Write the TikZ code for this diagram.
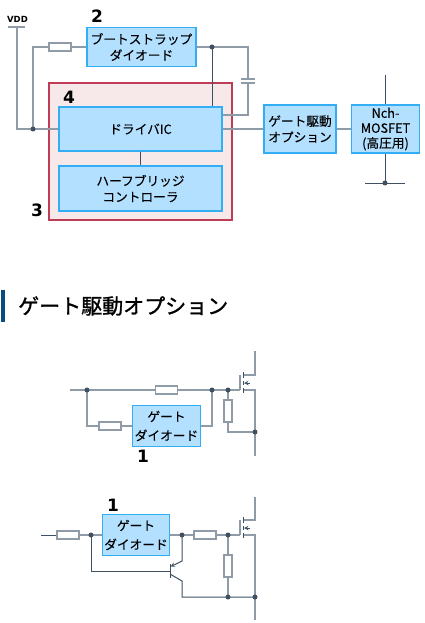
\documentclass[tikz,border=0pt]{standalone}
\usepackage{fontspec}
\setmainfont{Noto Sans CJK JP}
\newfontfamily\latinfont{DejaVu Sans}
\newfontfamily\titlefont[FakeBold=1.2]{Noto Sans CJK JP}
\newfontfamily\labelfont[FakeBold=0.05]{Noto Sans CJK JP}
\definecolor{box-blue}{RGB}{179,224,255}
\definecolor{box-edge}{RGB}{51,174,245}
\definecolor{wire-gray}{RGB}{143,155,167}
\definecolor{wire-dark}{RGB}{62,80,98}
\definecolor{ic-red}{RGB}{190,60,85}
\definecolor{ic-pink}{RGB}{247,233,233}
\definecolor{head-blue}{RGB}{11,74,125}
\tikzset{
  block/.style={draw=box-edge, fill=box-blue, line width=1.3pt, inner sep=0pt, align=center,
    font=\labelfont\fontsize{12.7}{16}\selectfont, text=black},
  wire/.style={draw=wire-gray, line width=1.2pt},
  thin wire/.style={draw=wire-dark, line width=1pt},
  dot/.style={circle, fill=wire-dark, inner sep=0pt, minimum size=5pt},
  res/.style={draw=wire-gray, fill=white, line width=1.2pt, inner sep=0pt, minimum width=22pt, minimum height=8pt},
  vres/.style={res, minimum width=8pt, minimum height=22pt},
  num/.style={font=\latinfont\fontsize{17}{17}\selectfont\bfseries, text=black, inner sep=0pt},
}
\begin{document}
\begin{tikzpicture}[x=1pt, y=-1pt]
  \useasboundingbox (0,0) rectangle (425,623);

  % top block diagram
  \node[draw=ic-red, fill=ic-pink, line width=1.3pt, minimum width=183pt, minimum height=137pt, inner sep=0pt] (ic) at (140.5,151.5) {};
  \node[block, minimum width=109pt, minimum height=39.5pt] (boot) at (141.5,47) {ブートストラップ\\ダイオード};
  \node[block, minimum width=163pt, minimum height=44pt] (driver) at (140.5,129) {ドライバIC};
  \node[block, minimum width=163pt, minimum height=45pt] (half) at (140.5,188.5) {ハーフブリッジ\\コントローラ};
  \node[block, minimum width=72pt, minimum height=48pt] (gate) at (300,129) {ゲート駆動\\オプション};
  \node[block, minimum width=67.5pt, minimum height=48pt, font=\labelfont\fontsize{12.7}{15}\selectfont] (fet) at (385.5,129) {Nch-\\MOSFET\\(高圧用)};
  \node[font=\latinfont\fontsize{8.5}{9}\selectfont\bfseries, inner sep=0pt] (vdd) at (17.5,19) {VDD};
  \node[num] (n2) at (97,16) {2};
  \node[num] (n4) at (69,97) {4};
  \node[num] (n3) at (37,210) {3};

  \coordinate (vddtop) at (17,27);
  \coordinate (vddcorner) at (17,129);
  \coordinate (vddjoin) at (33,129);
  \node[res] (rboot) at (60,47) {};
  \coordinate (bootjoin) at (212,47);
  \coordinate (capcorner) at (248,47);
  \coordinate (capup) at (248,79);
  \coordinate (capdown) at (248,83);
  \coordinate (capend) at (248,115);
  \draw[wire] (8,27) -- (25,27);
  \draw[wire] (vddtop) -- (vddcorner) -- (driver.west |- vddcorner);
  \draw[wire] (vddjoin) |- (rboot.west);
  \draw[wire] (rboot.east) -- (boot.west);
  \draw[wire] (boot.east) -- (capcorner) -- (capup);
  \draw[wire] (capdown) -- (capend) -- (driver.east |- capend);
  \draw[wire] (241,79) -- (255,79);
  \draw[wire] (241,83) -- (255,83);
  \draw[thin wire] (bootjoin) -- (bootjoin |- driver.north);
  \draw[thin wire] (driver) -- (half);
  \draw[wire] (driver.east) -- (gate.west);
  \draw[wire] (gate.east) -- (fet.west);
  \coordinate (fettop) at (385,75);
  \coordinate (fetjoin) at (385,183);
  \draw[thin wire] (fettop) -- (fettop |- fet.north);
  \draw[thin wire] (fetjoin |- fet.south) -- (fetjoin);
  \draw[thin wire] (365,183) -- (405,183);

  % heading
  \fill[head-blue] (1,290) rectangle (4.5,322);
  \node[anchor=west, font=\titlefont\fontsize{21}{24}\selectfont, inner sep=0pt, text=black] (title) at (18,306) {ゲート駆動オプション};

  % first option
  \node[block, minimum width=67.5pt, minimum height=40.5pt, font=\labelfont\fontsize{12.7}{19}\selectfont] (diodea) at (166.5,426) {ゲート\\ダイオード};
  \node[num] (n1a) at (143,456) {1};
  \coordinate (ajoin1) at (87,390);
  \coordinate (ajoin2) at (212,390);
  \coordinate (ajoin3) at (228,390);
  \coordinate (ajoin4) at (255,432);
  \node[res] (ar1) at (166.5,390) {};
  \node[res] (ar2) at (110,426) {};
  \node[vres] (ar3) at (228,411) {};
  \coordinate (ain) at (70,390);
  \coordinate (again) at (240,390);
  \draw[wire] (ain) -- (ar1.west);
  \draw[wire] (ar1.east) -- (again);
  \draw[wire] (ajoin1) |- (ar2.west);
  \draw[wire] (ar2.east) -- (diodea.west);
  \draw[wire] (diodea.east) -| (ajoin2);
  \draw[wire] (ajoin3) -- (ar3.north);
  \draw[wire] (ar3.south) |- (ajoin4);
  \draw[wire] (255,351) -- (255,375) -- (243,375);
  \draw[wire] (243,390) -- (255,390) -- (255,456);
  \draw[wire] (240,375) -- (240,390);
  \draw[thin wire] (243.5,372) -- (243.5,378);
  \draw[thin wire] (243.5,381) -- (243.5,385);
  \draw[thin wire] (243.5,388) -- (243.5,393);
  \draw[thin wire, ->, >=stealth] (250,383) -- (244,383);

  % second option
  \node[block, minimum width=67.5pt, minimum height=40.5pt, font=\labelfont\fontsize{12.7}{19}\selectfont] (diodeb) at (136,535) {ゲート\\ダイオード};
  \node[num] (n1b) at (113,505) {1};
  \coordinate (bjoin1) at (91,535);
  \coordinate (bjoin2) at (182,535);
  \coordinate (bjoin3) at (228,535);
  \coordinate (bjoin4) at (228,597);
  \coordinate (bjoin5) at (255,597);
  \node[res] (br1) at (68,535) {};
  \node[res] (br2) at (205,535) {};
  \node[vres] (br3) at (228,566) {};
  \coordinate (bin) at (41,535);
  \coordinate (bgain) at (240,535);
  \draw[thin wire] (bin) -- (br1.west);
  \draw[wire] (br1.east) -- (diodeb.west);
  \draw[wire] (diodeb.east) -- (br2.west);
  \draw[wire] (br2.east) -- (bgain);
  \draw[wire] (bjoin3) -- (br3.north);
  \draw[wire] (br3.south) -- (bjoin4);
  \draw[wire] (255,497) -- (255,520) -- (243,520);
  \draw[wire] (243,535) -- (255,535) -- (255,620);
  \draw[wire] (240,520) -- (240,535);
  \draw[thin wire] (243.5,517) -- (243.5,523);
  \draw[thin wire] (243.5,526) -- (243.5,530);
  \draw[thin wire] (243.5,533) -- (243.5,538);
  \draw[thin wire, ->, >=stealth] (250,528) -- (244,528);
  % transistor
  \coordinate (bbase) at (170,571);
  \draw[thin wire] (bjoin1) |- (bbase);
  \draw[thin wire] (170,564) -- (170,578);
  \draw[thin wire] (bjoin2) -- (182,561) -- (176,564);
  \draw[thin wire, ->, >=stealth] (176,564) -- (170.5,566.5);
  \draw[thin wire] (170,574) -- (182,581) |- (bjoin5);

  % dots on top of the wires
  \foreach \j in {vddjoin,bootjoin,fetjoin,ajoin1,ajoin2,ajoin3,ajoin4,bjoin1,bjoin2,bjoin3,bjoin4,bjoin5}
    \node[dot] (\j dot) at (\j) {};
\end{tikzpicture}
\end{document}
